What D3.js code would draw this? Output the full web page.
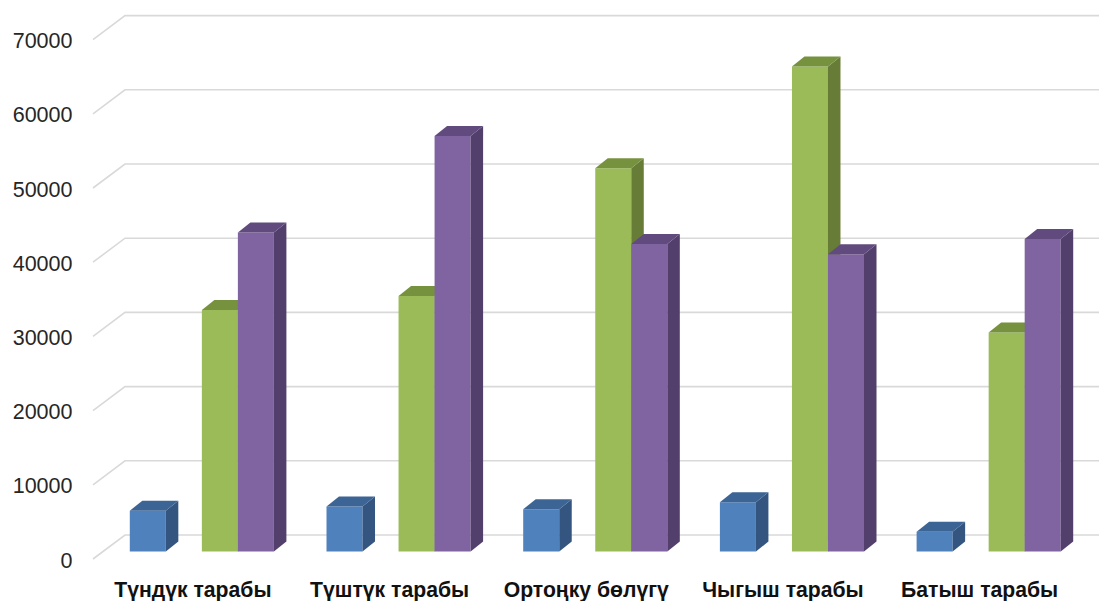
<!DOCTYPE html>
<html>
<head>
<meta charset="utf-8">
<script src="https://cdn.jsdelivr.net/npm/d3@7"></script>
<style>
  html, body { margin: 0; padding: 0; background: #fff; }
  svg { display: block; }
</style>
</head>
<body>
<svg id="chart" width="1099" height="601"></svg>
<script>
// Regions (categories) and the three series of values
const categories = ["Түндүк тарабы", "Түштүк тарабы", "Ортоңку бөлүгү", "Чыгыш тарабы", "Батыш тарабы"];
const seriesA = [5500, 6050, 5700, 6650, 2650];
const seriesB = [32550, 34450, 51650, 65350, 29500];
const seriesC = [43000, 56000, 41450, 40050, 42100];
const tickValues = [0, 10000, 20000, 30000, 40000, 50000, 60000, 70000];

// Column slots inside each cluster; the second slot is left empty
const slots = ["a", "empty", "b", "c"];
const series = [
  { slot: "a", values: seriesA, front: "#4f81bd", side: "#33557f", top: "#3c6595" },
  { slot: "b", values: seriesB, front: "#9bbb59", side: "#677d37", top: "#77923e" },
  { slot: "c", values: seriesC, front: "#8064a2", side: "#523f6b", top: "#614b7e" }
];

const svg = d3.select("#chart");

// Oblique 3-D projection: the back wall sits (wallDx, -wallDy) behind the front edge
const wallDx = 32, wallDy = 24;
const barShiftX = 10.5, barShiftY = 7.5;   // bar front faces sit slightly behind the floor edge
const barDx = 12.5, barDy = 10;            // bar depth

const x = d3.scaleBand().domain(categories).range([93, 1076.5]).paddingInner(0).paddingOuter(0);
const xInner = d3.scaleBand().domain(slots).range([0, x.bandwidth()]).paddingInner(0).paddingOuter(0.73);
const y = d3.scaleLinear().domain([0, 70000]).range([559, 39.6]);

// Gridlines: a short slanted segment on the left wall, then across the back wall
const grid = svg.append("g").attr("class", "grid");
tickValues.forEach(v => {
  const yf = y(v);
  grid.append("path")
    .attr("d", `M${x.range()[0]},${yf} L${x.range()[0] + wallDx},${yf - wallDy} L1099,${yf - wallDy}`)
    .attr("fill", "none")
    .attr("stroke", "#d9d9d9")
    .attr("stroke-width", 1.6);
});

// Value axis labels
const yAxis = d3.axisLeft(y).tickValues(tickValues).tickSize(0).tickPadding(0).tickFormat(d3.format("d"));
const yAxisG = svg.append("g").attr("transform", "translate(72.5,0)").call(yAxis);
yAxisG.select(".domain").remove();
yAxisG.selectAll("text")
  .attr("font-family", "'Liberation Sans', Arial, sans-serif")
  .attr("font-size", 21.5)
  .attr("fill", "#262626")
  .attr("dy", "0.38em");

// Bars as three visible faces: front, right side, top
const bars = svg.append("g").attr("class", "bars");
categories.forEach((cat, i) => {
  series.forEach(s => {
    const v = s.values[i];
    const x0 = x(cat) + xInner(s.slot) + barShiftX;
    const x1 = x0 + xInner.bandwidth();
    const yb = y(0) - barShiftY;
    const yt = y(v) - barShiftY;
    const g = bars.append("g");
    g.append("path")
      .attr("d", `M${x0},${yb} L${x0},${yt} L${x1},${yt} L${x1},${yb} Z`)
      .attr("fill", s.front);
    g.append("path")
      .attr("d", `M${x1},${yb} L${x1},${yt} L${x1 + barDx},${yt - barDy} L${x1 + barDx},${yb - barDy} Z`)
      .attr("fill", s.side);
    g.append("path")
      .attr("d", `M${x0},${yt} L${x0 + barDx},${yt - barDy} L${x1 + barDx},${yt - barDy} L${x1},${yt} Z`)
      .attr("fill", s.top);
  });
});

// Category labels
const xAxis = d3.axisBottom(x).tickSize(0).tickPadding(0);
const xAxisG = svg.append("g").attr("transform", "translate(1.5,597)").call(xAxis);
xAxisG.select(".domain").remove();
xAxisG.selectAll("text")
  .attr("font-family", "'Liberation Sans', Arial, sans-serif")
  .attr("font-size", 21.2)
  .attr("font-weight", "bold")
  .attr("fill", "#111")
  .attr("dy", 0);
</script>
</body>
</html>
